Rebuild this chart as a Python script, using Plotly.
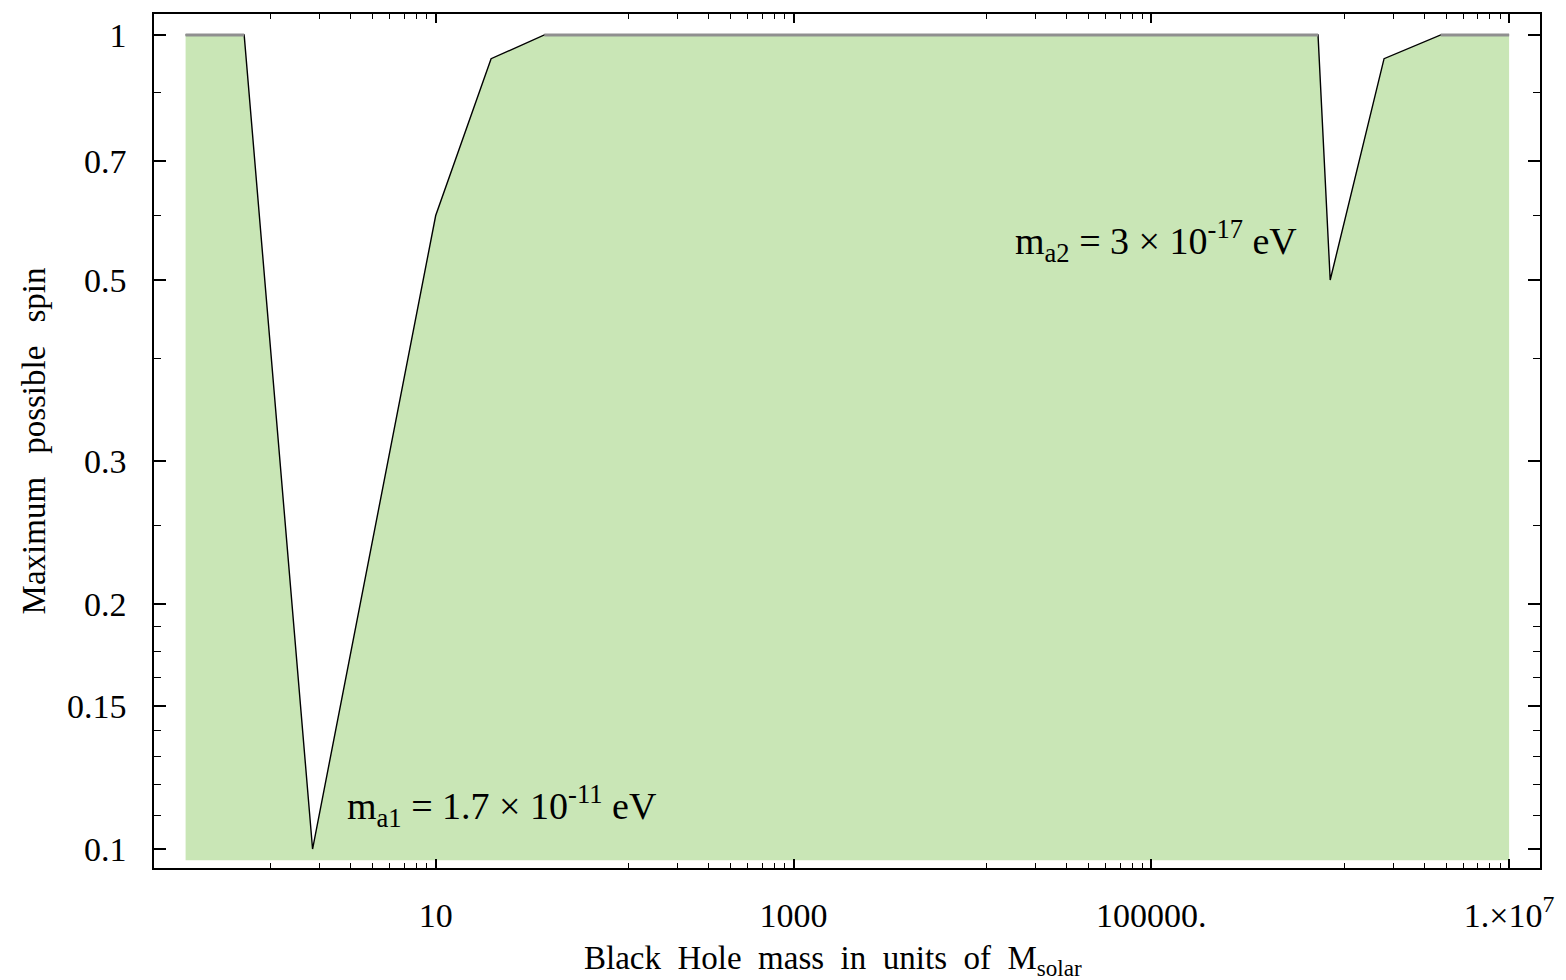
import numpy as np
import plotly.graph_objects as go

# Data (black hole mass in solar masses, max spin)
mass = [0.4, 0.85, 2.05, 10.0, 20.4, 40.5, 8.55e5, 1.0e6, 2.0e6, 4.15e6, 1.0e7]
spin = [1.0, 1.0, 0.1, 0.6, 0.935, 1.0, 1.0, 0.5, 0.935, 1.0, 1.0]
fill_floor = 0.0969

x_major_vals = [10, 1000, 1e5, 1e7]
x_major_text = ["10", "1000", "100000.", "1.\u00d710<sup>7</sup>"]
x_minor_mant = [1.2, 2.25, 3.35, 4.45, 5.55, 6.7, 7.8, 8.9]
y_major_vals = [0.1, 0.15, 0.2, 0.3, 0.5, 0.7, 1.0]
y_major_text = ["0.1", "0.15", "0.2", "0.3", "0.5", "0.7", "1"]
y_minor_vals = [0.11, 0.12, 0.13, 0.14, 0.1625, 0.175, 0.1875, 0.25, 0.4, 0.6, 0.85]

x_minor_vals = [m * v / 10 for v in x_major_vals for m in x_minor_mant]

FONT = "Liberation Serif"
fig = go.Figure()
fig.add_trace(go.Scatter(x=[mass[0], mass[-1]], y=[fill_floor, fill_floor],
                         mode="lines", line=dict(width=0), hoverinfo="skip",
                         showlegend=False))
fig.add_trace(go.Scatter(x=mass, y=spin, mode="lines", fill="tonexty",
                         fillcolor="rgb(201,230,182)",
                         line=dict(color="black", width=1.4), showlegend=False))
top_y = [s if s >= 1.0 else None for s in spin]
fig.add_trace(go.Scatter(x=mass, y=top_y, mode="lines",
                         line=dict(color="#8f8f8f", width=3), connectgaps=False,
                         showlegend=False))

fig.add_annotation(x=0.493, y=-0.947, xref="x", yref="y", xanchor="left", yanchor="middle",
                   text="m<sub>a1</sub> = 1.7 \u00d7 10<sup>-11</sup> eV", showarrow=False,
                   font=dict(family=FONT, size=38, color="black"))
fig.add_annotation(x=4.227, y=-0.2537, xref="x", yref="y", xanchor="left", yanchor="middle",
                   text="m<sub>a2</sub> = 3 \u00d7 10<sup>-17</sup> eV", showarrow=False,
                   font=dict(family=FONT, size=38, color="black"))
# x-axis title
fig.add_annotation(x=0.4899, y=-0.0818, xref="paper", yref="paper", xanchor="center", yanchor="top",
                   text="Black\u2002Hole\u2002mass\u2002in\u2002units\u2002of\u2002M<sub>solar</sub>",
                   showarrow=False, font=dict(family=FONT, size=33, color="black"))

axis_common = dict(showline=True, linecolor="black", linewidth=1.5, mirror="ticks",
                   ticks="inside", tickcolor="black", tickwidth=1.5,
                   showgrid=False, zeroline=False,
                   tickfont=dict(family=FONT, size=34, color="black"))

fig.update_xaxes(type="log", range=[-0.5746, 7.1727], tickmode="array",
                 tickvals=x_major_vals, ticktext=x_major_text, ticklen=9,
                 minor=dict(tickmode="array", tickvals=x_minor_vals, ticks="inside",
                            ticklen=5, tickcolor="black", tickwidth=1.2, showgrid=False),
                 ticklabelstandoff=16,
                 **axis_common)
fig.update_yaxes(type="log", range=[-1.0233, 0.0257], tickmode="array",
                 tickvals=y_major_vals, ticktext=y_major_text, ticklen=12,
                 minor=dict(tickmode="array", tickvals=y_minor_vals, ticks="inside",
                            ticklen=7, tickcolor="black", tickwidth=1.2, showgrid=False),
                 title=dict(text="Maximum\u2002\u2009possible\u2002\u2009spin",
                            font=dict(family=FONT, size=33, color="black"), standoff=11),
                 ticklabelstandoff=19,
                 **axis_common)

fig.update_layout(width=1566, height=980, margin=dict(l=154, r=26, t=12, b=112),
                  paper_bgcolor="white", plot_bgcolor="white",
                  font=dict(family=FONT, color="black"))
fig.write_html("out.html")
